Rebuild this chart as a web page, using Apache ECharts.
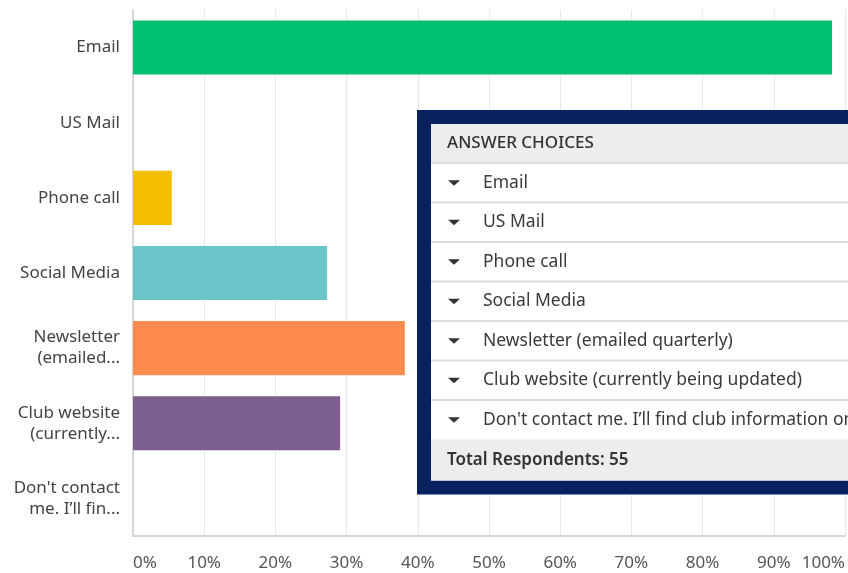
<!DOCTYPE html>
<html>
<head>
<meta charset="utf-8">
<script src="https://cdn.jsdelivr.net/npm/echarts@6/dist/echarts.min.js"></script>
<style>
  html, body { margin: 0; padding: 0; background: #fff; }
  #main { width: 848px; height: 573px; }
</style>
</head>
<body>
<div id="main"></div>
<script>
  // answer choices, full text (used in the table) and short axis labels
  var categories = [
    'Email',
    'US Mail',
    'Phone call',
    'Social Media',
    'Newsletter (emailed quarterly)',
    'Club website (currently being updated)',
    "Don't contact me. I\u2019ll find club information on my own"
  ];
  var axisLabels = [
    'Email',
    'US Mail',
    'Phone call',
    'Social Media',
    'Newsletter\n(emailed...',
    'Club website\n(currently...',
    "Don't contact\nme. I\u2019ll fin..."
  ];
  // percent of respondents
  var percents = [98.18, 0, 5.45, 27.27, 38.18, 29.09, 0];
  var totalRespondents = 55;
  var xTicks = [0, 10, 20, 30, 40, 50, 60, 70, 80, 90, 100];

  var barColors = ['#00bf6f', '#2f6dc7', '#f5be00', '#6bc6cb', '#ff8b4f', '#7c5e8f', '#a3a3a3'];
  var font = '"Noto Sans", "Open Sans", sans-serif';

  var myChart = echarts.init(document.getElementById('main'));

  // overlay table (answer choices box)
  var boxX = 417, boxY = 110, border = 14, rowH = 39.5, headH = 39;
  var innerX = boxX + border, innerY = boxY + border;
  var g = [];
  var innerH = headH + rowH * categories.length + 41;
  g.push({ type: 'rect', shape: { x: boxX, y: boxY, width: 460, height: innerH + border * 2 }, style: { fill: '#0a2160' }, z: 100 });
  g.push({ type: 'rect', shape: { x: innerX, y: innerY, width: 460, height: innerH }, style: { fill: '#fff' }, z: 101 });
  g.push({ type: 'rect', shape: { x: innerX, y: innerY, width: 460, height: headH }, style: { fill: '#ededee' }, z: 102 });
  g.push({ type: 'text', x: 447, y: innerY + headH / 2, style: { text: 'ANSWER CHOICES', font: '500 17px ' + font, fill: '#333', verticalAlign: 'middle' }, z: 103 });
  categories.forEach(function (c, i) {
    var y0 = innerY + headH + rowH * i;
    g.push({ type: 'line', shape: { x1: innerX, y1: y0, x2: innerX + 460, y2: y0 }, style: { stroke: '#dcdcdc', lineWidth: 2 }, z: 103 });
    g.push({ type: 'polygon', shape: { points: [[448, y0 + rowH / 2 - 2.5], [460, y0 + rowH / 2 - 2.5], [454, y0 + rowH / 2 + 3]] }, style: { fill: '#333' }, z: 103 });
    g.push({ type: 'text', x: 483, y: y0 + rowH / 2, style: { text: c, font: '17.5px ' + font, fill: '#3a3a3a', verticalAlign: 'middle' }, z: 103 });
  });
  var totY = innerY + headH + rowH * categories.length;
  g.push({ type: 'rect', shape: { x: innerX, y: totY, width: 460, height: innerH - (totY - innerY) }, style: { fill: '#ededee' }, z: 102 });
  g.push({ type: 'text', x: 447, y: totY + (innerH - (totY - innerY)) / 2, style: { text: 'Total Respondents: ' + totalRespondents, font: '600 17px ' + font, fill: '#333', verticalAlign: 'middle' }, z: 103 });

  var option = {
    backgroundColor: '#fff',
    animation: false,
    grid: { left: 133, right: 0, top: 10, bottom: 37, containLabel: false },
    xAxis: {
      type: 'value',
      min: xTicks[0],
      max: xTicks[xTicks.length - 1],
      interval: 10,
      axisLine: { show: true, lineStyle: { color: '#d6d6d6', width: 2 } },
      axisTick: { show: false },
      splitLine: { show: true, lineStyle: { color: '#e8e8e8', width: 1 } },
      axisLabel: {
        formatter: '{value}%',
        color: '#555',
        fontSize: 17,
        fontFamily: font,
        margin: 19,
        alignMinLabel: 'left',
        alignMaxLabel: 'right'
      }
    },
    yAxis: {
      type: 'category',
      inverse: true,
      data: axisLabels,
      axisLine: { show: true, lineStyle: { color: '#d6d6d6', width: 2 } },
      axisTick: { show: false },
      axisLabel: { color: '#444', fontSize: 17, fontFamily: font, margin: 13, lineHeight: 21, align: 'right' }
    },
    series: [{
      type: 'bar',
      barCategoryGap: '28%',
      data: percents.map(function (v, i) {
        return { value: v, itemStyle: { color: barColors[i] } };
      })
    }],
    graphic: g
  };

  myChart.setOption(option);
</script>
</body>
</html>
